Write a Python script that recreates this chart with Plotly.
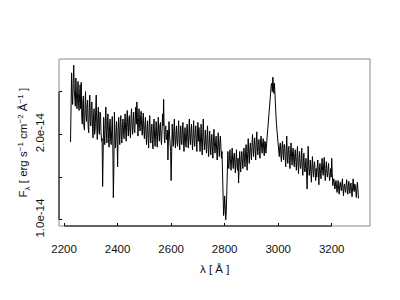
import plotly.graph_objects as go

# Wavelength grid of the spectrum [Angstrom]
wavelength = [
    2224, 2226, 2228, 2230, 2232, 2234, 2236, 2238, 2240, 2242, 2244, 2246, 2248, 2250, 2252, 2254, 2256, 2258, 2260, 2262,
    2264, 2266, 2268, 2270, 2272, 2274, 2276, 2278, 2280, 2282, 2284, 2286, 2288, 2290, 2292, 2294, 2296, 2298, 2300, 2302,
    2304, 2306, 2308, 2310, 2312, 2314, 2316, 2318, 2320, 2322, 2324, 2326, 2328, 2330, 2332, 2334, 2336, 2338, 2340, 2342,
    2344, 2346, 2348, 2350, 2352, 2354, 2356, 2358, 2360, 2362, 2364, 2366, 2368, 2370, 2372, 2374, 2376, 2378, 2380, 2382,
    2384, 2386, 2388, 2390, 2392, 2394, 2396, 2398, 2400, 2402, 2404, 2406, 2408, 2410, 2412, 2414, 2416, 2418, 2420, 2422,
    2424, 2426, 2428, 2430, 2432, 2434, 2436, 2438, 2440, 2442, 2444, 2446, 2448, 2450, 2452, 2454, 2456, 2458, 2460, 2462,
    2464, 2466, 2468, 2470, 2472, 2474, 2476, 2478, 2480, 2482, 2484, 2486, 2488, 2490, 2492, 2494, 2496, 2498, 2500, 2502,
    2504, 2506, 2508, 2510, 2512, 2514, 2516, 2518, 2520, 2522, 2524, 2526, 2528, 2530, 2532, 2534, 2536, 2538, 2540, 2542,
    2544, 2546, 2548, 2550, 2552, 2554, 2556, 2558, 2560, 2562, 2564, 2566, 2568, 2570, 2572, 2574, 2576, 2578, 2580, 2582,
    2584, 2586, 2588, 2590, 2592, 2594, 2596, 2598, 2600, 2602, 2604, 2606, 2608, 2610, 2612, 2614, 2616, 2618, 2620, 2622,
    2624, 2626, 2628, 2630, 2632, 2634, 2636, 2638, 2640, 2642, 2644, 2646, 2648, 2650, 2652, 2654, 2656, 2658, 2660, 2662,
    2664, 2666, 2668, 2670, 2672, 2674, 2676, 2678, 2680, 2682, 2684, 2686, 2688, 2690, 2692, 2694, 2696, 2698, 2700, 2702,
    2704, 2706, 2708, 2710, 2712, 2714, 2716, 2718, 2720, 2722, 2724, 2726, 2728, 2730, 2732, 2734, 2736, 2738, 2740, 2742,
    2744, 2746, 2748, 2750, 2752, 2754, 2756, 2758, 2760, 2762, 2764, 2766, 2768, 2770, 2772, 2774, 2776, 2778, 2780, 2782,
    2784, 2786, 2788, 2790, 2792, 2794, 2796, 2798, 2800, 2802, 2804, 2806, 2808, 2810, 2812, 2814, 2816, 2818, 2820, 2822,
    2824, 2826, 2828, 2830, 2832, 2834, 2836, 2838, 2840, 2842, 2844, 2846, 2848, 2850, 2852, 2854, 2856, 2858, 2860, 2862,
    2864, 2866, 2868, 2870, 2872, 2874, 2876, 2878, 2880, 2882, 2884, 2886, 2888, 2890, 2892, 2894, 2896, 2898, 2900, 2902,
    2904, 2906, 2908, 2910, 2912, 2914, 2916, 2918, 2920, 2922, 2924, 2926, 2928, 2930, 2932, 2934, 2936, 2938, 2940, 2942,
    2944, 2946, 2948, 2950, 2952, 2954, 2956, 2958, 2960, 2962, 2964, 2966, 2968, 2970, 2972, 2974, 2976, 2978, 2980, 2982,
    2984, 2986, 2988, 2990, 2992, 2994, 2996, 2998, 3000, 3002, 3004, 3006, 3008, 3010, 3012, 3014, 3016, 3018, 3020, 3022,
    3024, 3026, 3028, 3030, 3032, 3034, 3036, 3038, 3040, 3042, 3044, 3046, 3048, 3050, 3052, 3054, 3056, 3058, 3060, 3062,
    3064, 3066, 3068, 3070, 3072, 3074, 3076, 3078, 3080, 3082, 3084, 3086, 3088, 3090, 3092, 3094, 3096, 3098, 3100, 3102,
    3104, 3106, 3108, 3110, 3112, 3114, 3116, 3118, 3120, 3122, 3124, 3126, 3128, 3130, 3132, 3134, 3136, 3138, 3140, 3142,
    3144, 3146, 3148, 3150, 3152, 3154, 3156, 3158, 3160, 3162, 3164, 3166, 3168, 3170, 3172, 3174, 3176, 3178, 3180, 3182,
    3184, 3186, 3188, 3190, 3192, 3194, 3196, 3198, 3200, 3202, 3204, 3206, 3208, 3210, 3212, 3214, 3216, 3218, 3220, 3222,
    3224, 3226, 3228, 3230, 3232, 3234, 3236, 3238, 3240, 3242, 3244, 3246, 3248, 3250, 3252, 3254, 3256, 3258, 3260, 3262,
    3264, 3266, 3268, 3270, 3272, 3274, 3276, 3278, 3280, 3282, 3284, 3286, 3288, 3290, 3292, 3294, 3296, 3298, 3300,
]

# Flux density in units of 1e-14 erg s^-1 cm^-2 A^-1
flux_e14 = [
    1.91, 2.50, 2.72, 2.45, 2.35, 2.60, 2.81, 2.52, 2.40, 2.33, 2.66, 2.55, 2.30, 2.42, 2.62, 2.36, 2.28, 2.48, 2.58, 2.30,
    2.61, 2.20, 2.12, 2.38, 2.45, 2.10, 2.05, 2.30, 2.50, 2.22, 2.15, 2.35, 2.40, 2.08, 2.02, 2.28, 2.46, 2.15, 2.10, 2.36,
    2.38, 2.10, 1.96, 2.22, 2.30, 2.00, 2.05, 2.28, 2.46, 2.12, 1.94, 2.20, 2.32, 2.05, 2.00, 2.26, 2.25, 2.02, 1.92, 1.95,
    1.39, 1.98, 2.20, 2.00, 1.88, 2.12, 2.32, 2.02, 1.90, 2.16, 2.24, 1.95, 1.85, 2.10, 2.18, 1.92, 1.88, 2.06, 2.21, 1.90,
    1.26, 1.60, 2.26, 2.00, 1.84, 2.08, 2.15, 1.95, 1.62, 2.05, 2.20, 2.02, 1.88, 2.14, 2.22, 1.98, 1.90, 2.10, 2.18, 2.04,
    1.95, 2.12, 2.24, 2.05, 1.92, 2.15, 2.28, 2.08, 1.98, 2.18, 2.22, 2.04, 1.96, 2.20, 2.30, 2.10, 2.00, 2.16, 2.26, 2.06,
    2.02, 2.18, 2.32, 2.12, 2.38, 2.20, 1.98, 2.14, 2.30, 2.10, 2.04, 2.22, 2.27, 2.08, 1.99, 2.16, 2.25, 2.05, 1.95, 2.10,
    2.20, 2.00, 1.88, 2.06, 2.16, 1.96, 1.84, 2.08, 2.22, 1.98, 1.90, 2.04, 2.12, 1.94, 1.83, 2.06, 2.18, 1.98, 1.86, 2.02,
    2.15, 1.98, 1.85, 2.04, 2.20, 2.00, 1.92, 2.10, 2.14, 1.96, 1.88, 2.06, 2.24, 2.10, 2.41, 2.00, 1.90, 2.08, 2.10, 1.94,
    1.96, 2.05, 1.70, 1.98, 2.15, 2.00, 1.90, 1.80, 1.46, 1.75, 2.12, 1.96, 1.86, 2.04, 2.18, 1.95, 1.84, 2.00, 2.10, 1.92,
    1.86, 2.02, 2.16, 1.95, 1.82, 2.00, 2.10, 1.92, 1.88, 2.04, 2.14, 1.94, 1.80, 1.98, 2.08, 1.90, 1.85, 2.02, 2.12, 1.96,
    1.84, 2.00, 2.18, 1.96, 1.88, 2.04, 2.12, 1.94, 1.82, 2.00, 2.16, 1.92, 1.86, 2.02, 2.10, 1.95, 1.80, 1.98, 2.14, 1.92,
    2.08, 1.94, 1.80, 1.96, 2.12, 1.90, 1.76, 1.98, 2.18, 1.96, 1.82, 1.92, 2.05, 1.88, 1.78, 1.95, 2.10, 1.86, 1.74, 1.90,
    2.04, 1.88, 1.76, 1.90, 2.00, 1.84, 1.72, 1.92, 2.06, 1.86, 1.78, 1.90, 1.98, 1.82, 1.70, 1.88, 2.02, 1.85, 1.74, 1.90,
    1.98, 1.85, 1.72, 1.80, 1.50, 1.20, 1.05, 1.12, 1.28, 1.15, 1.00, 1.10, 1.45, 1.70, 1.80, 1.62, 1.60, 1.75, 1.82, 1.66,
    1.58, 1.72, 1.84, 1.68, 1.60, 1.74, 1.78, 1.66, 1.55, 1.70, 1.82, 1.64, 1.58, 1.72, 1.43, 1.62, 1.80, 1.68, 1.56, 1.72,
    1.80, 1.70, 1.60, 1.74, 1.84, 1.72, 1.62, 1.78, 1.88, 1.70, 1.58, 1.80, 1.95, 1.76, 1.66, 1.82, 1.90, 1.78, 1.70, 1.86,
    2.00, 1.84, 1.74, 1.88, 1.96, 1.82, 1.70, 1.90, 2.03, 1.86, 1.76, 1.88, 1.94, 1.80, 1.72, 1.92, 1.98, 1.85, 1.78, 1.90,
    1.95, 1.82, 1.75, 1.92, 1.90, 1.78, 1.86, 1.98, 2.09, 2.16, 2.25, 2.32, 2.38, 2.45, 2.52, 2.58, 2.60, 2.50, 2.67, 2.55,
    2.48, 2.60, 2.40, 2.30, 2.20, 2.10, 2.02, 1.92, 1.85, 1.80, 1.74, 1.86, 1.90, 1.76, 1.68, 1.84, 1.92, 1.78, 1.70, 1.88,
    1.88, 1.74, 1.62, 1.80, 1.98, 1.72, 1.66, 1.82, 1.86, 1.70, 1.60, 1.78, 1.90, 1.74, 1.64, 1.80, 1.84, 1.70, 1.62, 1.76,
    1.82, 1.68, 1.58, 1.74, 1.86, 1.66, 1.54, 1.72, 1.80, 1.64, 1.60, 1.70, 1.84, 1.62, 1.52, 1.68, 1.78, 1.60, 1.56, 1.64,
    1.72, 1.55, 1.36, 1.62, 1.86, 1.64, 1.52, 1.60, 1.70, 1.56, 1.44, 1.62, 1.74, 1.58, 1.50, 1.64, 1.68, 1.56, 1.46, 1.60,
    1.50, 1.62, 1.70, 1.56, 1.41, 1.58, 1.66, 1.54, 1.48, 1.62, 1.72, 1.58, 1.52, 1.64, 1.73, 1.56, 1.46, 1.60, 1.68, 1.55,
    1.50, 1.58, 1.66, 1.55, 1.46, 1.52, 1.60, 1.50, 1.72, 1.54, 1.40, 1.45, 1.48, 1.40, 1.36, 1.42, 1.46, 1.38, 1.32, 1.40,
    1.46, 1.36, 1.30, 1.40, 1.44, 1.38, 1.34, 1.42, 1.48, 1.36, 1.28, 1.40, 1.42, 1.35, 1.32, 1.41, 1.47, 1.36, 1.30, 1.39,
    1.45, 1.37, 1.31, 1.40, 1.43, 1.34, 1.27, 1.38, 1.48, 1.36, 1.33, 1.42, 1.40, 1.33, 1.26, 1.38, 1.44, 1.35, 1.25,
]
flux = [v * 1e-14 for v in flux_e14]

x_ticks = [2200, 2400, 2600, 2800, 3000, 3200]
x_tick_labels = ["2200", "2400", "2600", "2800", "3000", "3200"]
y_ticks = [1.0e-14, 1.5e-14, 2.0e-14, 2.5e-14]
y_tick_labels = ["1.0e-14", "", "2.0e-14", ""]

x_title = "λ [ Å ]"
y_title = "F<sub>λ</sub> [ erg s<sup>−1</sup> cm<sup>−2</sup> Å<sup>−1</sup> ]"

FONT = "Liberation Sans, Arial, Helvetica, sans-serif"

y_major = [v for v, t in zip(y_ticks, y_tick_labels) if t]
y_major_text = [t for t in y_tick_labels if t]
y_minor = [v for v, t in zip(y_ticks, y_tick_labels) if not t]

# R-style 4% axis expansion
xspan = max(wavelength) - min(wavelength)
yspan = max(flux) - min(flux)
xrange_ = [min(wavelength) - 0.04 * xspan, max(wavelength) + 0.04 * xspan]
yrange_ = [min(flux) - 0.04 * yspan, max(flux) + 0.04 * yspan]

fig = go.Figure()
fig.add_trace(go.Scatter(
    x=wavelength, y=flux, mode="lines",
    line=dict(color="black", width=1),
    showlegend=False, hoverinfo="skip",
))

fig.update_layout(
    width=400, height=300,
    margin=dict(l=59, r=30, t=59, b=74),
    paper_bgcolor="white", plot_bgcolor="white",
    font=dict(family=FONT, size=11.5, color="#111111"),
    xaxis=dict(
        range=xrange_, tickvals=x_ticks, ticktext=x_tick_labels,
        ticks="inside", ticklen=3, tickwidth=1, tickcolor="black",
        showgrid=False, zeroline=False, showline=False,
        ticklabelstandoff=14,
        tickfont=dict(family=FONT, size=11.5, color="#111111"),
    ),
    yaxis=dict(
        range=yrange_, tickvals=y_major, ticktext=y_major_text,
        ticks="inside", ticklen=3, tickwidth=1, tickcolor="black",
        showgrid=False, zeroline=False, showline=False,
        tickangle=-90, ticklabelstandoff=12,
        tickfont=dict(family=FONT, size=11.5, color="#111111"),
        minor=dict(tickvals=y_minor, ticks="inside", ticklen=3,
                   tickwidth=1, tickcolor="black", showgrid=False),
    ),
    shapes=[
        # grey box round the plot region
        dict(type="rect", xref="x domain", yref="y domain",
             x0=0, x1=1, y0=0, y1=1, line=dict(color="#8a8a8a", width=1)),
        # black axis lines spanning first to last tick
        dict(type="line", xref="x", yref="y domain",
             x0=x_ticks[0], x1=x_ticks[-1], y0=0, y1=0,
             line=dict(color="black", width=1)),
        dict(type="line", xref="x domain", yref="y",
             x0=0, x1=0, y0=y_ticks[0], y1=y_ticks[-1],
             line=dict(color="black", width=1)),
    ],
    annotations=[
        dict(text=x_title, xref="x domain", yref="y domain",
             x=0.5, y=0, yshift=-43, xanchor="center", yanchor="middle",
             showarrow=False, font=dict(family=FONT, size=11.5, color="#111111")),
        dict(text=y_title, xref="x domain", yref="y domain",
             x=0, y=0.5, xshift=-36, xanchor="center", yanchor="middle",
             textangle=-90, showarrow=False,
             font=dict(family=FONT, size=11.5, color="#111111")),
    ],
)

fig.write_html("out.html")
